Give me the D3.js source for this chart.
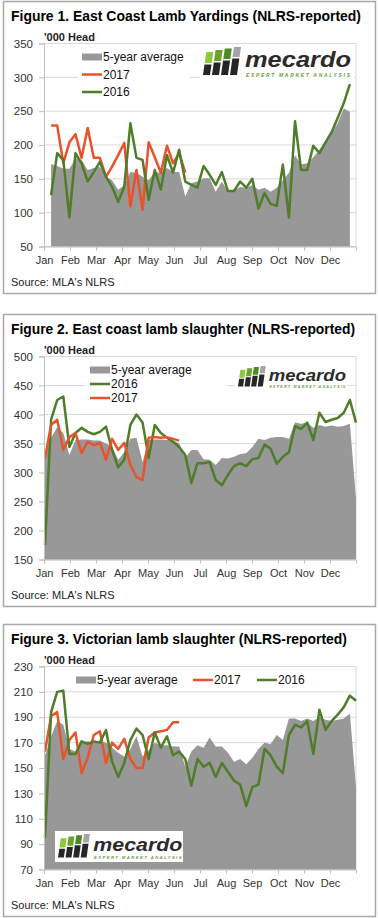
<!DOCTYPE html>
<html>
<head>
<meta charset="utf-8">
<script src="https://cdn.jsdelivr.net/npm/d3@7"></script>
<style>
  body { margin: 0; background: #fff; }
  text { font-family: Arial, "Liberation Sans", sans-serif; }
</style>
</head>
<body>
<div id="chart"></div>
<script>
// ---- data ('000 head, weekly) ----
const months = ["Jan", "Feb", "Mar", "Apr", "May", "Jun", "Jul", "Aug", "Sep", "Oct", "Nov", "Dec"];

// Figure 1: East coast lamb yardings
const yardTicks = [50, 100, 150, 200, 250, 300, 350];
const yardAvg = [172, 169, 165, 165, 180, 178, 163, 166, 168, 153, 148, 134, 141, 160, 159, 153, 148, 160, 159, 166,
                 160, 160, 124, 144, 146, 151, 151, 131, 146, 131, 132, 138, 137, 141, 134, 137, 131, 137, 148, 159,
                 185, 171, 173, 182, 193, 204, 217, 232, 254, 249];
const yard2017 = [229, 229, 173, 204, 216, 181, 225, 181, 181, 153, 168, 185, 203, 109, 163, 104, 204, 182, 159, 199,
                  173, 188, 159];
const yard2016 = [126, 188, 178, 93, 188, 173, 146, 160, 175, 153, 138, 116, 138, 232, 181, 178, 119, 163, 134, 185,
                  159, 193, 146, 141, 137, 169, 156, 141, 160, 132, 132, 146, 137, 150, 106, 129, 113, 110, 171, 93,
                  235, 163, 163, 199, 188, 204, 219, 240, 262, 290];

// Figure 2: East coast lamb slaughter
const ecTicks = [150, 200, 250, 300, 350, 400, 450, 500];
const ecAvg = [330, 360, 378, 368, 330, 356, 357, 357, 355, 355, 350, 345, 322, 335, 358, 360, 318, 356, 357, 357,
               356, 355, 350, 325, 339, 339, 323, 322, 313, 325, 324, 327, 332, 333, 344, 358, 356, 360, 361, 361,
               358, 386, 384, 386, 377, 382, 379, 381, 379, 380, 384, 255];
const ec2016 = [175, 391, 425, 431, 344, 368, 377, 370, 366, 370, 379, 339, 309, 322, 382, 400, 386, 325, 382, 368,
                360, 353, 344, 330, 282, 316, 316, 318, 287, 278, 296, 311, 316, 311, 323, 325, 348, 341, 315, 327,
                335, 380, 375, 386, 356, 403, 387, 391, 394, 403, 425, 386];
const ec2017 = [325, 382, 391, 339, 361, 368, 334, 353, 347, 351, 322, 358, 339, 351, 313, 292, 287, 360, 361, 360,
                361, 358, 355];

// Figure 3: Victorian lamb slaughter
const vicTicks = [70, 90, 110, 130, 150, 170, 190, 210, 230];
const vicAvg = [160, 175, 187, 184, 165, 163, 170, 171, 170, 171, 170, 166, 162, 159, 165, 175, 159, 164, 170, 168,
                168, 167, 167, 151, 163, 168, 166, 174, 167, 167, 162, 155, 157, 153, 158, 165, 170, 169, 176, 172,
                189, 189, 187, 189, 187, 190, 188, 187, 188, 189, 193, 135];
const vic2017 = [163, 191, 194, 157, 172, 178, 146, 158, 176, 179, 154, 170, 165, 173, 157, 150, 150, 174, 178, 179,
                 180, 186, 186];
const vic2016 = [95, 194, 210, 211, 161, 161, 171, 169, 171, 170, 180, 155, 143, 154, 172, 181, 176, 157, 178, 166,
                 175, 160, 163, 157, 136, 157, 151, 154, 143, 154, 147, 140, 137, 120, 135, 137, 165, 160, 151, 146,
                 176, 184, 182, 187, 161, 196, 180, 187, 192, 198, 207, 203];

const RED = "#e9532b", GREEN = "#4f7d29", AVG = "#989898";

const panels = [
  { top: 1, title: "Figure 1. East Coast Lamb Yardings (NLRS-reported)", titleLen: 350,
    ticks: yardTicks, avg: yardAvg, start: 1,
    series: [{ name: "2017", values: yard2017, color: RED }, { name: "2016", values: yard2016, color: GREEN }],
    legend: { type: "stack", x: 82, y: 56, dy: 17.5, bg: [78, 46, 112, 54] },
    logo: { x: 203, y: 46, s: 1, bg: [200, 44, 154, 34] } },
  { top: 314, title: "Figure 2. East coast lamb slaughter (NLRS-reported)", titleLen: 344,
    ticks: ecTicks, avg: ecAvg, start: 0,
    series: [{ name: "2016", values: ec2016, color: GREEN }, { name: "2017", values: ec2017, color: RED }],
    legend: { type: "stack", x: 90, y: 56, dy: 14, bg: [86, 47, 140, 44] },
    logo: { x: 238, y: 52, s: 0.73, bg: [235, 49, 113, 29] } },
  { top: 624, title: "Figure 3. Victorian lamb slaughter (NLRS-reported)", titleLen: 336,
    ticks: vicTicks, avg: vicAvg, start: 0,
    series: [{ name: "2017", values: vic2017, color: RED }, { name: "2016", values: vic2016, color: GREEN }],
    legend: { type: "row", y: 56, xs: [76, 193, 257] },
    logo: { x: 58, y: 210, s: 0.84, bg: [55, 207, 128, 31] } }
];

const svg = d3.select("#chart").append("svg")
    .attr("width", 378)
    .attr("height", 918);

const plot = { left: 44, right: 356, top: 42.5, bottom: 245.5 };

// weekly positions and month ticks
const x = d3.scaleLinear().domain([0, 51]).range([45, 356]);
const xMonth = d3.scaleLinear().domain([0, 12]).range([plot.left, plot.right]);

function drawLogo(g, lx, ly, s) {
    var lg = g.append("g").attr("transform", "translate(" + lx + "," + ly + ") scale(" + s + ")");
    var tops = ["#8dc63f", "#6aa32c", "#4c8a22", "#a5a5a5"];
    var splits = [16, 14, 12, 10];
    var startY = [5, 3, 1.5, 0];
    var off = y => (28 - y) / 28 * 4;
    var para = (bx, y1, y2) => "M" + (bx + off(y1)) + "," + y1 + "L" + (bx + 7 + off(y1)) + "," + y1 +
        "L" + (bx + 7 + off(y2)) + "," + y2 + "L" + (bx + off(y2)) + "," + y2 + "Z";
    tops.forEach(function (c, j) {
        var bx = j * 9;
        lg.append("path").attr("d", para(bx, startY[j], splits[j])).attr("fill", c);
        lg.append("path").attr("d", para(bx, splits[j] + 1.5, 28)).attr("fill", "#262626");
    });
    lg.append("text")
        .attr("x", 42).attr("y", 20)
        .attr("font-size", 22).attr("font-weight", "bold").attr("font-style", "italic")
        .attr("fill", "#2b2b2b")
        .attr("textLength", 106).attr("lengthAdjust", "spacingAndGlyphs")
        .text("mecardo");
    lg.append("text")
        .attr("x", 43).attr("y", 30)
        .attr("font-size", 5).attr("font-weight", "bold").attr("font-style", "italic")
        .attr("fill", "#6a9b3a")
        .attr("textLength", 104).attr("lengthAdjust", "spacing")
        .text("EXPERT MARKET ANALYSIS");
}

panels.forEach(function (p) {
    var g = svg.append("g").attr("transform", "translate(0," + p.top + ")");

    // frame
    g.append("rect")
        .attr("x", 3.5).attr("y", 0.5)
        .attr("width", 372).attr("height", 292)
        .attr("fill", "#fff").attr("stroke", "#a9a9a9").attr("stroke-width", 1.5);

    g.append("text")
        .attr("x", 11).attr("y", 19.5)
        .attr("font-size", 14).attr("font-weight", "bold").attr("fill", "#000")
        .attr("textLength", p.titleLen).attr("lengthAdjust", "spacingAndGlyphs")
        .text(p.title);

    var y = d3.scaleLinear()
        .domain([p.ticks[0], p.ticks[p.ticks.length - 1]])
        .range([plot.bottom, plot.top]);

    // gridlines
    g.append("g").selectAll("line")
        .data(p.ticks)
        .enter().append("line")
        .attr("x1", plot.left).attr("x2", plot.right)
        .attr("y1", d => y(d)).attr("y2", d => y(d))
        .attr("stroke", "#d9d9d9");
    g.append("line")
        .attr("x1", plot.right).attr("x2", plot.right)
        .attr("y1", plot.top).attr("y2", plot.bottom)
        .attr("stroke", "#d9d9d9");

    // 5-year average area
    var area = d3.area()
        .x((d, i) => x(p.start + i))
        .y0(y(p.ticks[0]))
        .y1(d => y(d));
    g.append("path").datum(p.avg)
        .attr("d", area)
        .attr("fill", AVG);

    // yearly lines
    var line = d3.line()
        .x((d, i) => x(p.start + i))
        .y(d => y(d));
    p.series.forEach(function (s) {
        g.append("path").datum(s.values)
            .attr("d", line)
            .attr("fill", "none")
            .attr("stroke", s.color)
            .attr("stroke-width", 2.5)
            .attr("stroke-linejoin", "round");
    });

    // axes
    var yAxis = g.append("g")
        .attr("transform", "translate(" + plot.left + ",0)")
        .call(d3.axisLeft(y).tickValues(p.ticks).tickSize(5).tickPadding(6));
    var xAxis = g.append("g")
        .attr("transform", "translate(0," + plot.bottom + ")")
        .call(d3.axisBottom(xMonth).tickValues(d3.range(12)).tickFormat(i => months[i]).tickSize(4).tickPadding(6));
    [yAxis, xAxis].forEach(function (a) {
        a.select(".domain").attr("stroke", "#bfbfbf");
        a.selectAll(".tick line").attr("stroke", "#bfbfbf");
        a.selectAll(".tick text")
            .attr("font-family", "Arial, 'Liberation Sans', sans-serif")
            .attr("font-size", 11.5).attr("fill", "#333");
    });
    xAxis.selectAll(".tick text").attr("font-size", 11);

    g.append("text")
        .attr("x", 44).attr("y", 40)
        .attr("font-size", 11).attr("font-weight", "bold").attr("fill", "#222")
        .text("'000 Head");

    g.append("text")
        .attr("x", 11).attr("y", 284.5)
        .attr("font-size", 11).attr("fill", "#222")
        .text("Source: MLA's NLRS");

    // legend
    var items = [{ name: "5-year average", color: AVG, area: true }].concat(p.series);
    var L = p.legend;
    if (L.bg) {
        g.append("rect")
            .attr("x", L.bg[0]).attr("y", L.bg[1]).attr("width", L.bg[2]).attr("height", L.bg[3])
            .attr("fill", "#fff");
    }
    var lgd = g.append("g")
        .attr("font-size", 12)
        .selectAll("g")
        .data(items)
        .enter().append("g")
        .attr("transform", function (d, i) {
            return L.type === "stack"
                ? "translate(" + L.x + "," + (L.y + i * L.dy) + ")"
                : "translate(" + L.xs[i] + "," + L.y + ")";
        });
    lgd.append("rect")
        .attr("x", 0)
        .attr("y", d => d.area ? -3.5 : -1.25)
        .attr("width", 20)
        .attr("height", d => d.area ? 7 : 2.5)
        .attr("fill", d => d.color);
    lgd.append("text")
        .attr("x", 21)
        .attr("dy", "0.36em")
        .attr("fill", "#111")
        .text(d => d.name);

    // logo
    g.append("rect")
        .attr("x", p.logo.bg[0]).attr("y", p.logo.bg[1])
        .attr("width", p.logo.bg[2]).attr("height", p.logo.bg[3])
        .attr("fill", "#fff");
    drawLogo(g, p.logo.x, p.logo.y, p.logo.s);
});
</script>
</body>
</html>
